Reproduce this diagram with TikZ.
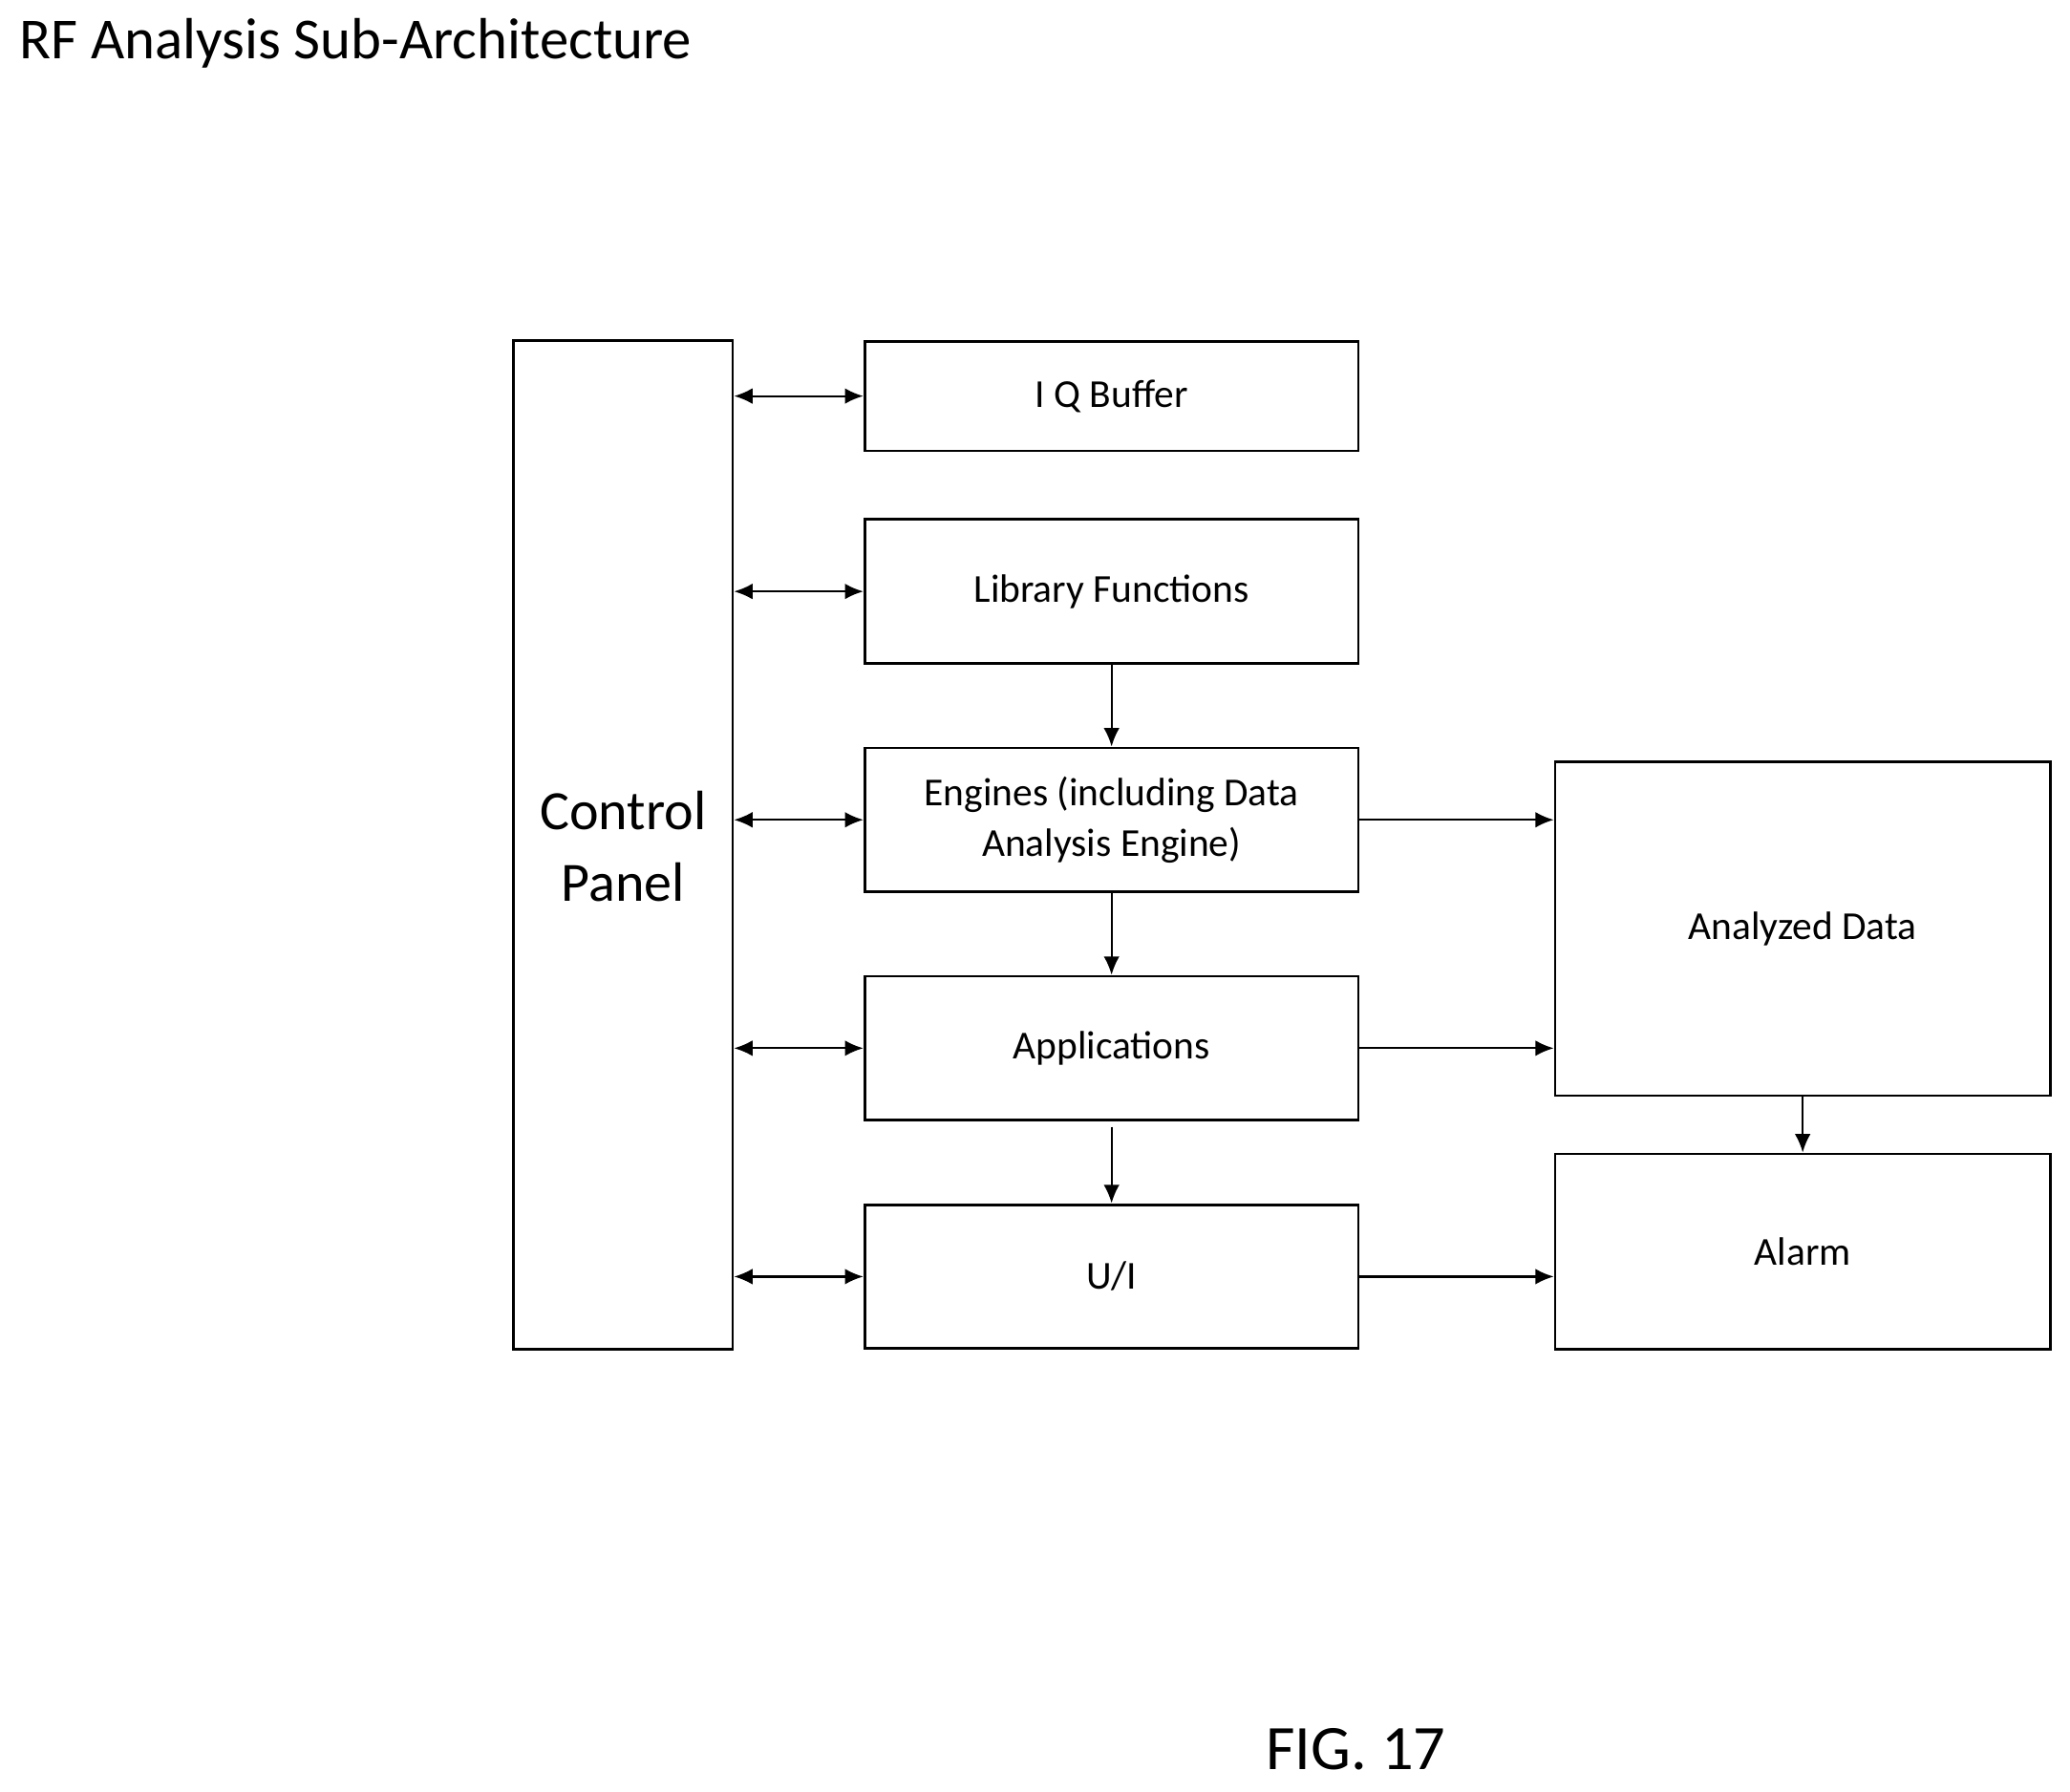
\documentclass[tikz,border=0pt]{standalone}
\usepackage{fontspec}
\setmainfont{Carlito}
\usetikzlibrary{arrows.meta}
\begin{document}
\begin{tikzpicture}[x=0.5pt,y=-0.5pt,
  box/.style={draw,line width=1pt,inner sep=0pt,align=center,font=\fontsize{15}{19}\selectfont},
  ar/.style={line width=0.8pt,-{Latex[length=7pt,width=6pt]}},
  dar/.style={line width=0.8pt,{Latex[length=7pt,width=6pt]}-{Latex[length=7pt,width=6pt]}}]
\useasboundingbox (0,0) rectangle (1568,1357);
\node[anchor=west,font=\fontsize{22}{26}\selectfont] (title) at (8,33) {RF Analysis Sub-Architecture};
\node[box,minimum width=166pt*0.5,minimum height=764pt*0.5,font=\fontsize{21}{27}\selectfont] (cp) at (472,640) {};
\node[font=\fontsize{21}{27}\selectfont,align=center] (cpt) at (472,641) {Control\\Panel};
\node[box,minimum width=187pt,minimum height=41.5pt] (iq) at (842,300) {I Q Buffer};
\node[box,minimum width=187pt,minimum height=54.5pt] (lib) at (842,448) {Library Functions};
\node[box,minimum width=187pt,minimum height=54.5pt] (eng) at (842,621) {Engines (including Data\\Analysis Engine)};
\node[box,minimum width=187pt,minimum height=54.5pt] (app) at (842,794) {Applications};
\node[box,minimum width=187pt,minimum height=54.5pt] (ui) at (842,967) {U/I};
\node[box,minimum width=187.5pt,minimum height=126.5pt] (ad) at (1365.5,703.5) {Analyzed Data};
\node[box,minimum width=187.5pt,minimum height=74pt] (al) at (1365.5,948) {Alarm};
\node[font=\fontsize{24}{28}\selectfont] (fig) at (1027,1325) {FIG. 17};
\foreach \n in {iq,lib,eng,app,ui} \draw[dar] (cp.east |- \n) -- (\n.west);
\draw[ar] (lib) -- (eng);
\draw[ar] (eng) -- (app);
\draw[ar] ([yshift=-2pt]app.south) -- (ui);
\draw[ar] (eng.east) -- (ad.west |- eng.east);
\draw[ar] (app.east) -- (ad.west |- app.east);
\draw[ar] (ui.east) -- (al.west |- ui.east);
\draw[ar] (ad) -- (al);
\end{tikzpicture}
\end{document}
